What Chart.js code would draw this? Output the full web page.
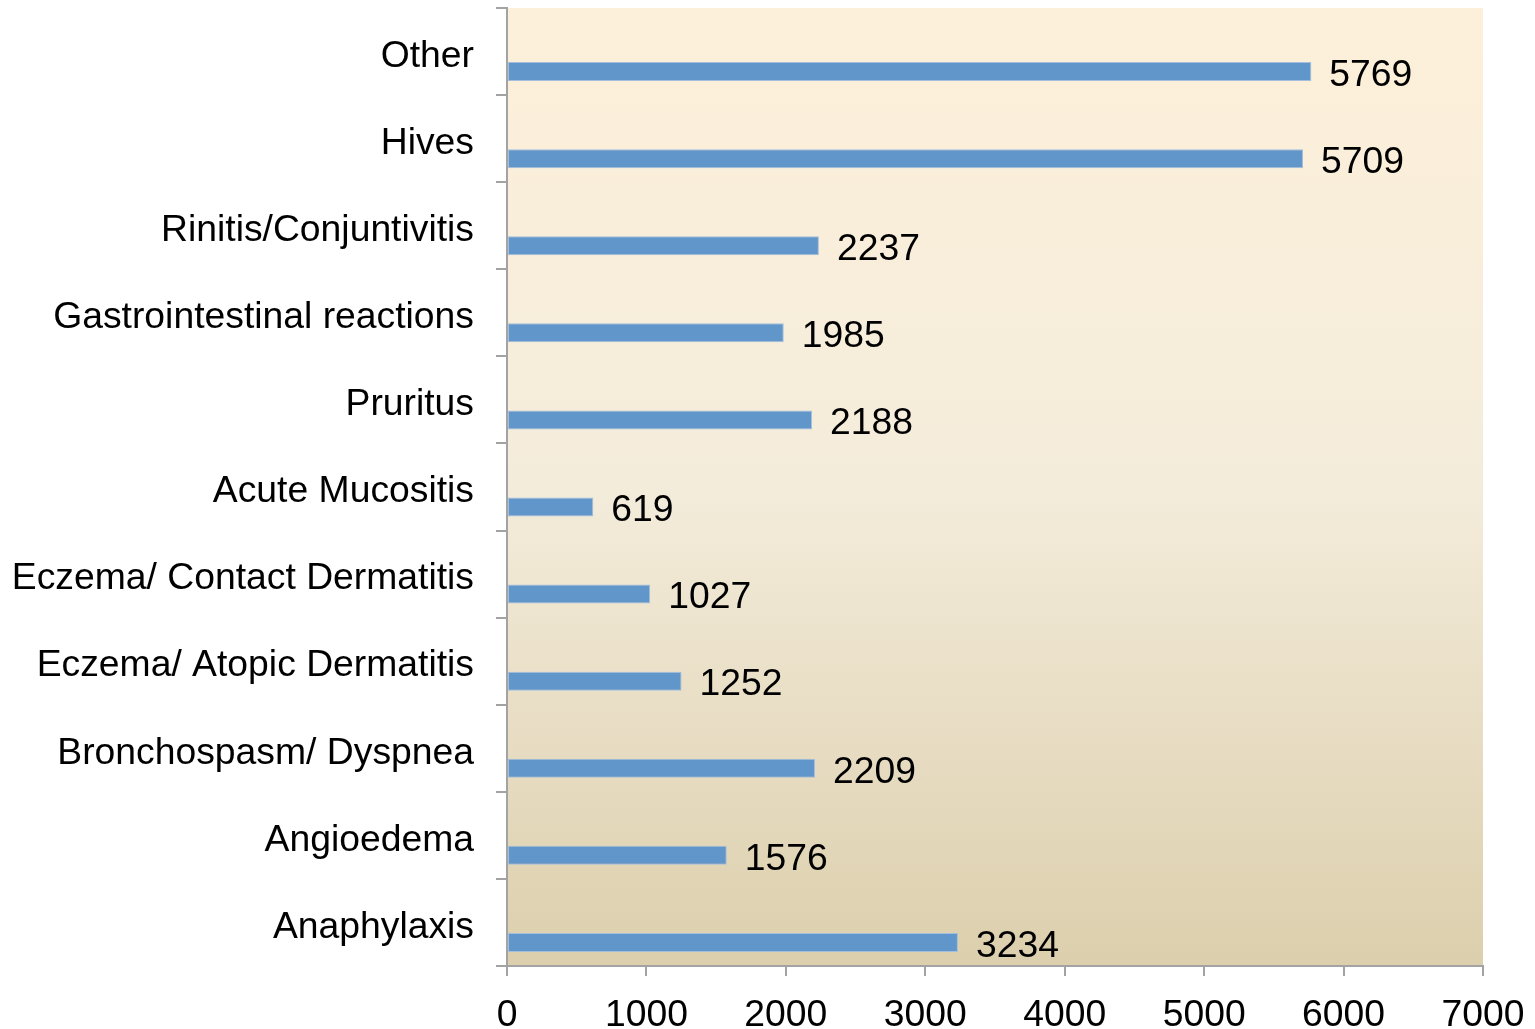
<!DOCTYPE html>
<html lang="en">
<head>
    <meta charset="UTF-8">
    <title>Reactions by type</title>
    <script src="https://cdn.jsdelivr.net/npm/chart.js"></script>
    <style>
        html, body {
            margin: 0;
            padding: 0;
            background: #fff;
        }
        .chart-box {
            width: 1535px;
            height: 1029px;
        }
    </style>
</head>
<body>
<div class="chart-box">
    <canvas id="reactionsChart"></canvas>
</div>
<script>
    const categories = ['Other', 'Hives', 'Rinitis/Conjuntivitis', 'Gastrointestinal reactions', 'Pruritus',
        'Acute Mucositis', 'Eczema/ Contact Dermatitis', 'Eczema/ Atopic Dermatitis',
        'Bronchospasm/ Dyspnea', 'Angioedema', 'Anaphylaxis'];
    const counts = [5769, 5709, 2237, 1985, 2188, 619, 1027, 1252, 2209, 1576, 3234];
    // empty series, only there so the real bar sits low in its band (as in the Excel original)
    const spacer = categories.map(() => null);
    const xMin = 0;
    const xMax = 7000;
    const xStep = 1000;

    const FONT = "'Liberation Sans', Arial, sans-serif";
    const FONT_SIZE = 37.3;
    const AXIS_GREY = '#a3a3a3';

    // plot area background gradient
    const plotBackground = {
        id: 'plotBackground',
        beforeDraw(chart) {
            const {ctx, chartArea: a} = chart;
            const g = ctx.createLinearGradient(0, a.top, 0, a.bottom);
            g.addColorStop(0, '#fdf0da');
            g.addColorStop(0.5, '#f4ecdb');
            g.addColorStop(1, '#dccfad');
            ctx.save();
            ctx.fillStyle = g;
            ctx.fillRect(a.left, a.top, a.right - a.left, a.bottom - a.top);
            ctx.restore();
        }
    };

    // value labels to the right of each bar
    const valueLabels = {
        id: 'valueLabels',
        afterDatasetsDraw(chart) {
            const {ctx} = chart;
            const meta = chart.getDatasetMeta(1);
            ctx.save();
            ctx.font = FONT_SIZE + 'px ' + FONT;
            ctx.fillStyle = '#000';
            ctx.textAlign = 'left';
            ctx.textBaseline = 'middle';
            meta.data.forEach((bar, i) => {
                ctx.fillText(String(counts[i]), bar.x + 18, bar.y + 4);
            });
            ctx.restore();
        }
    };

    new Chart(document.getElementById('reactionsChart'), {
        type: 'bar',
        data: {
            labels: categories,
            datasets: [
                {
                    label: 'spacer',
                    data: spacer
                },
                {
                    label: 'Reactions',
                    data: counts,
                    backgroundColor: '#6096c9',
                    borderColor: '#a3bfdd',
                    borderWidth: 1,
                    borderSkipped: false
                }
            ]
        },
        options: {
            indexAxis: 'y',
            responsive: true,
            maintainAspectRatio: false,
            animation: false,
            categoryPercentage: 0.9186,
            barPercentage: 0.475,
            layout: {
                padding: {left: 0, right: 52, top: 8, bottom: 0}
            },
            plugins: {
                legend: {display: false},
                tooltip: {enabled: false}
            },
            scales: {
                x: {
                    min: xMin,
                    max: xMax,
                    ticks: {
                        stepSize: xStep,
                        color: '#000',
                        padding: 17,
                        font: {family: FONT, size: FONT_SIZE},
                        callback: (v) => String(v)
                    },
                    grid: {
                        drawOnChartArea: false,
                        tickLength: 10,
                        color: AXIS_GREY,
                        lineWidth: 2
                    },
                    border: {color: AXIS_GREY, width: 2},
                    afterFit(scale) {
                        scale.height = 63;
                        scale.paddingLeft = 0;
                        scale.paddingRight = 0;
                    }
                },
                y: {
                    ticks: {
                        color: '#000',
                        padding: 22,
                        labelOffset: 5,
                        font: {family: FONT, size: FONT_SIZE}
                    },
                    grid: {
                        offset: true,
                        drawOnChartArea: false,
                        tickLength: 11,
                        color: AXIS_GREY,
                        lineWidth: 2
                    },
                    border: {color: AXIS_GREY, width: 2},
                    afterFit(scale) {
                        scale.width = 507;
                        scale.paddingTop = 0;
                        scale.paddingBottom = 0;
                    }
                }
            }
        },
        plugins: [plotBackground, valueLabels]
    });
</script>
</body>
</html>
